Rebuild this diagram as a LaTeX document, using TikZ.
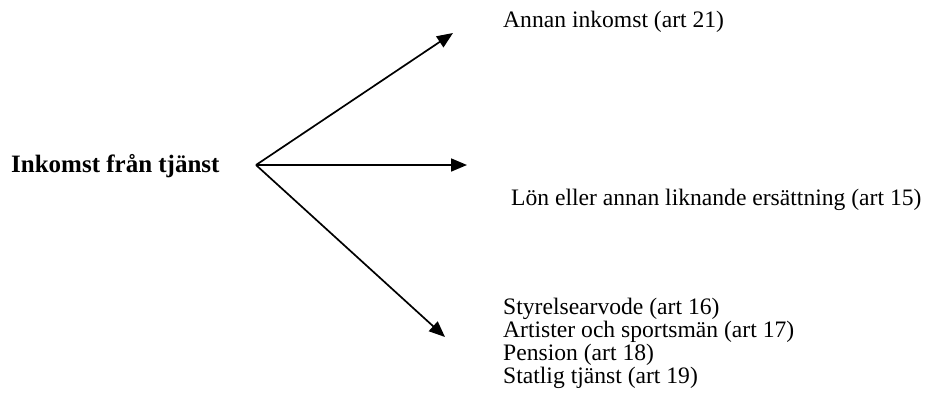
\documentclass[tikz,border=0pt]{standalone}
\usepackage{fontspec}
\setmainfont{Liberation Serif}
\usetikzlibrary{arrows.meta}
\begin{document}
\begin{tikzpicture}[x=1pt,y=-1pt,
  txt/.style={inner sep=0pt,font=\fontsize{23.6}{23}\selectfont},
  conn/.style={line width=1.7pt,-{Triangle[length=16pt,width=13pt]}}]
\useasboundingbox (0,0) rectangle (926,402);
\node[txt,anchor=base west,font=\fontsize{25}{26}\selectfont\bfseries] (src) at (11,172) {Inkomst från tjänst};
\coordinate (o) at (256,165);
\coordinate (t1) at (453,33);
\coordinate (t2) at (467,165);
\coordinate (t3) at (445,337);
\draw[conn] (o) -- (t1);
\draw[conn] (o) -- (t2);
\draw[conn] (o) -- (t3);
\node[txt,anchor=base west] (a21) at (503,27) {Annan inkomst (art 21)};
\node[txt,anchor=base west] (a15) at (511,205) {Lön eller annan liknande ersättning (art 15)};
\node[txt,anchor=north west,align=left] (rest) at (503,298) {Styrelsearvode (art 16)\\Artister och sportsmän (art 17)\\Pension (art 18)\\Statlig tjänst (art 19)};
\end{tikzpicture}
\end{document}
